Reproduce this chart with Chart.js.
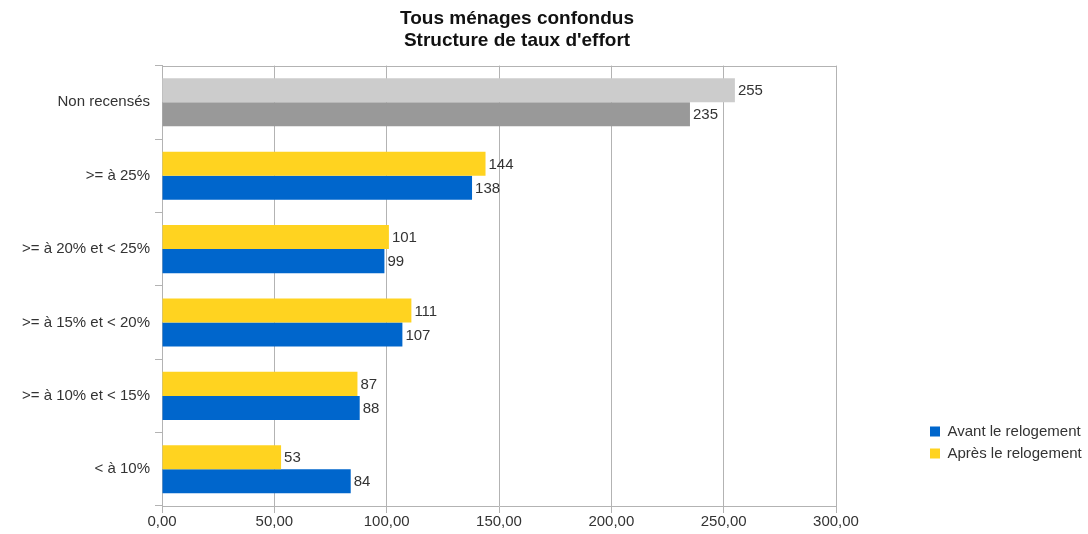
<!DOCTYPE html>
<html lang="fr">
<head>
  <meta charset="UTF-8">
  <title>Tous ménages confondus - Structure de taux d'effort</title>
  <script src="https://cdn.jsdelivr.net/npm/chart.js@4.4.0/dist/chart.umd.min.js"></script>
  <style>
    html, body { margin: 0; padding: 0; background: #fff; }
  </style>
</head>
<body>
  <canvas id="effort-chart" width="1088" height="534"></canvas>

  <script>
    // chart values
    const categories = ['Non recensés', '>= à 25%', '>= à 20% et < 25%', '>= à 15% et < 20%', '>= à 10% et < 15%', '< à 10%'];
    const avantValues = [235, 138, 99, 107, 88, 84];
    const apresValues = [255, 144, 101, 111, 87, 53];
    const xTickValues = [0, 50, 100, 150, 200, 250, 300];
    const titleLines = ['Tous ménages confondus', "Structure de taux d'effort"];

    const FONT = '"Liberation Sans", Arial, sans-serif';
    const GRID = '#b3b3b3';
    const TEXT = '#333333';
    const YELLOW = '#ffd320';
    const BLUE = '#0066cc';

    // "Non recensés" row is drawn in greys
    const apresColor = ctx => ctx.dataIndex === 0 ? '#cccccc' : YELLOW;
    const avantColor = ctx => ctx.dataIndex === 0 ? '#999999' : BLUE;
    const legendColors = { 'Après le relogement': YELLOW, 'Avant le relogement': BLUE };

    // numbers at the end of each bar
    const valueLabels = {
      id: 'valueLabels',
      afterDatasetsDraw(chart) {
        const ctx = chart.ctx;
        ctx.save();
        ctx.font = '15px ' + FONT;
        ctx.fillStyle = TEXT;
        ctx.textAlign = 'left';
        ctx.textBaseline = 'middle';
        chart.data.datasets.forEach((ds, i) => {
          chart.getDatasetMeta(i).data.forEach((bar, j) => {
            ctx.fillText(String(ds.data[j]), bar.x + 3, bar.y + 1);
          });
        });
        ctx.restore();
      }
    };

    // top edge of the plot frame + moving title / legend where the original has them
    const frame = {
      id: 'frame',
      afterLayout(chart) {
        const t = chart.titleBlock;
        t.left -= 27;
        t.right -= 27;
        const lg = chart.legend;
        const w = lg.width, h = lg.height;
        lg.left = 923; lg.right = 923 + w;
        lg.top = 417; lg.bottom = 417 + h;
      },
      beforeDatasetsDraw(chart) {
        const {ctx, chartArea} = chart;
        ctx.save();
        ctx.strokeStyle = GRID;
        ctx.lineWidth = 1;
        ctx.beginPath();
        ctx.moveTo(chartArea.left, Math.round(chartArea.top) + 0.5);
        ctx.lineTo(chartArea.right, Math.round(chartArea.top) + 0.5);
        ctx.stroke();
        ctx.restore();
      }
    };

    new Chart(document.getElementById('effort-chart'), {
      type: 'bar',
      data: {
        labels: categories,
        datasets: [
          {
            label: 'Après le relogement',
            data: apresValues,
            backgroundColor: apresColor,
            categoryPercentage: 0.655,
            barPercentage: 1
          },
          {
            label: 'Avant le relogement',
            data: avantValues,
            backgroundColor: avantColor,
            categoryPercentage: 0.655,
            barPercentage: 1
          }
        ]
      },
      options: {
        indexAxis: 'y',
        responsive: false,
        animation: false,
        devicePixelRatio: 1,
        layout: { padding: { bottom: 3 } },
        scales: {
          x: {
            min: 0,
            max: 300,
            afterBuildTicks: scale => { scale.ticks = xTickValues.map(v => ({ value: v })); },
            afterFit: scale => { scale.paddingRight = 252; },
            ticks: {
              padding: 0,
              color: TEXT,
              font: { family: FONT, size: 15 },
              callback: v => v.toFixed(2).replace('.', ',')
            },
            grid: { color: GRID, tickLength: 7 },
            border: { color: GRID }
          },
          y: {
            afterFit: scale => { scale.width = 162; },
            ticks: {
              padding: 5,
              color: TEXT,
              font: { family: FONT, size: 15 }
            },
            grid: { color: GRID, offset: true, drawOnChartArea: false, tickLength: 7 },
            border: { color: GRID }
          }
        },
        plugins: {
          title: {
            display: true,
            text: titleLines,
            color: '#111111',
            font: { family: FONT, size: 19, weight: 'bold', lineHeight: 1.2 },
            padding: { top: 7, bottom: 13 }
          },
          legend: {
            position: 'right',
            align: 'start',
            reverse: true,
            labels: {
              boxWidth: 10,
              boxHeight: 10,
              padding: 7,
              color: TEXT,
              font: { family: FONT, size: 15 },
              generateLabels: chart => {
                const items = Chart.defaults.plugins.legend.labels.generateLabels(chart);
                items.forEach(it => {
                  it.fillStyle = legendColors[it.text];
                  it.strokeStyle = legendColors[it.text];
                  it.lineWidth = 0;
                });
                return items;
              }
            }
          },
          tooltip: { enabled: false }
        }
      },
      plugins: [valueLabels, frame]
    });
  </script>
</body>
</html>
